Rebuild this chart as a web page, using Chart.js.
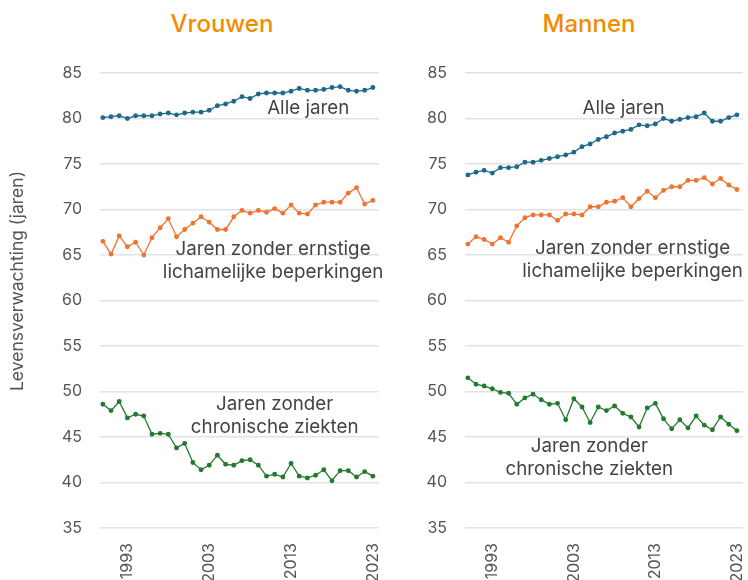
<!DOCTYPE html>
<html lang="nl">
<head>
<meta charset="utf-8">
<title>Levensverwachting</title>
<script src="https://cdn.jsdelivr.net/npm/chart.js@4/dist/chart.umd.min.js"></script>
<style>
  html, body { margin: 0; padding: 0; background: #fff; }
  body { width: 748px; height: 580px; position: relative; overflow: hidden; font-family: Inter, sans-serif; }
  .titel { position: absolute; top: 9px; width: 200px; text-align: center; font-size: 24px; font-weight: 500; color: #f08c00; }
  canvas { position: absolute; top: 0; }
</style>
</head>
<body>
<div class="titel" style="left:122px">Vrouwen</div>
<div class="titel" style="left:489px">Mannen</div>
<canvas id="grafiekVrouwen" width="385" height="580" style="left:0"></canvas>
<canvas id="grafiekMannen" width="328" height="580" style="left:420px"></canvas>
<script>
const jaren = [1990, 1991, 1992, 1993, 1994, 1995, 1996, 1997, 1998, 1999,
  2000, 2001, 2002, 2003, 2004, 2005, 2006, 2007, 2008, 2009,
  2010, 2011, 2012, 2013, 2014, 2015, 2016, 2017, 2018, 2019,
  2020, 2021, 2022, 2023];
const jaarTicks = [1993, 2003, 2013, 2023];
const yTicks = [35, 40, 45, 50, 55, 60, 65, 70, 75, 80, 85];

const vrouwenAlle = [80.1, 80.2, 80.3, 80.0, 80.3, 80.3, 80.3, 80.5, 80.6, 80.4,
  80.6, 80.7, 80.7, 80.9, 81.4, 81.6, 81.9, 82.4, 82.2, 82.7,
  82.8, 82.8, 82.8, 83.0, 83.3, 83.1, 83.1, 83.2, 83.4, 83.5,
  83.1, 83.0, 83.1, 83.4];
const vrouwenBeperking = [66.5, 65.1, 67.1, 65.9, 66.4, 65.0, 66.9, 68.0, 69.0, 67.0,
  67.8, 68.5, 69.2, 68.6, 67.8, 67.8, 69.2, 69.9, 69.6, 69.9,
  69.7, 70.1, 69.6, 70.5, 69.6, 69.5, 70.5, 70.8, 70.8, 70.8,
  71.8, 72.4, 70.6, 71.0];
const vrouwenChronisch = [48.6, 47.9, 48.9, 47.1, 47.5, 47.3, 45.3, 45.4, 45.3, 43.8,
  44.3, 42.2, 41.4, 41.9, 43.0, 42.0, 41.9, 42.4, 42.5, 41.9,
  40.7, 40.9, 40.6, 42.1, 40.7, 40.5, 40.8, 41.4, 40.2, 41.3,
  41.3, 40.6, 41.2, 40.7];

const mannenAlle = [73.8, 74.1, 74.3, 74.0, 74.6, 74.6, 74.7, 75.2, 75.2, 75.4,
  75.6, 75.8, 76.0, 76.3, 76.9, 77.2, 77.7, 78.0, 78.4, 78.6,
  78.8, 79.3, 79.2, 79.4, 80.0, 79.7, 79.9, 80.1, 80.2, 80.6,
  79.7, 79.7, 80.1, 80.4];
const mannenBeperking = [66.2, 67.0, 66.7, 66.2, 66.9, 66.4, 68.2, 69.1, 69.4, 69.4,
  69.4, 68.8, 69.5, 69.5, 69.4, 70.3, 70.3, 70.8, 70.9, 71.3,
  70.3, 71.2, 72.0, 71.3, 72.1, 72.5, 72.5, 73.2, 73.2, 73.5,
  72.8, 73.4, 72.7, 72.2];
const mannenChronisch = [51.5, 50.8, 50.6, 50.3, 49.9, 49.8, 48.6, 49.3, 49.7, 49.1,
  48.6, 48.7, 46.9, 49.2, 48.3, 46.6, 48.3, 47.9, 48.4, 47.6,
  47.2, 46.1, 48.2, 48.7, 47.0, 45.9, 46.9, 46.0, 47.3, 46.3,
  45.8, 47.2, 46.4, 45.7];

const reeksLabels = ["Alle jaren", "Jaren zonder ernstige lichamelijke beperkingen", "Jaren zonder chronische ziekten"];
const kleuren = ["#1d6a8c", "#ee7431", "#237a2e"];
const asTitel = "Levensverwachting (jaren)";

// tekst bij de lijnen, geplaatst in data-coordinaten
const tekstPlugin = {
  id: "tekstLabels",
  afterDatasetsDraw(chart, args, opts) {
    const ctx = chart.ctx;
    const x = chart.scales.x, y = chart.scales.y;
    ctx.save();
    ctx.fillStyle = "#444";
    ctx.font = "18.8px Inter, sans-serif";
    ctx.textAlign = "center";
    ctx.textBaseline = "middle";
    opts.items.forEach((it) => {
      const px = x.getPixelForValue(it.x);
      const py = y.getPixelForValue(it.y);
      it.lines.forEach((regel, k) => ctx.fillText(regel, px, py + k * 23.5));
    });
    if (opts.asTitel) {
      ctx.fillStyle = "#555";
      ctx.font = "17.5px Inter, sans-serif";
      ctx.translate(18, 281);
      ctx.rotate(-Math.PI / 2);
      ctx.fillText(opts.asTitel, 0, 0);
    }
    ctx.restore();
  },
};

function maakDatasets(reeksen) {
  return reeksen.map((waarden, i) => ({
    label: reeksLabels[i],
    data: waarden.map((v, j) => ({ x: jaren[j], y: v })),
    borderColor: kleuren[i],
    backgroundColor: kleuren[i],
    borderWidth: 1.3,
    pointRadius: 1.8,
    pointHoverRadius: 1.8,
    tension: 0,
  }));
}

function maakGrafiek(id, reeksen, yBreedte, padding, items, titel) {
  return new Chart(document.getElementById(id), {
    type: "line",
    data: { datasets: maakDatasets(reeksen) },
    options: {
      responsive: false,
      animation: false,
      devicePixelRatio: 1,
      layout: { padding: padding },
      plugins: {
        legend: { display: false },
        tooltip: { enabled: false },
        tekstLabels: { items: items, asTitel: titel },
      },
      scales: {
        x: {
          type: "linear",
          min: 1989.65,
          max: 2023.75,
          afterBuildTicks: (s) => { s.ticks = jaarTicks.map((v) => ({ value: v })); },
          afterFit: (s) => {
            s.height = 52;
            s.paddingLeft = 0;
            s.paddingRight = 0;
          },
          grid: { display: false },
          border: { display: false },
          ticks: {
            autoSkip: false,
            minRotation: 90,
            maxRotation: 90,
            padding: 7,
            color: "#555",
            font: { family: "Inter, sans-serif", size: 16 },
            callback: (v) => String(v),
          },
        },
        y: {
          min: 35,
          max: 85,
          afterBuildTicks: (s) => { s.ticks = yTicks.map((v) => ({ value: v })); },
          afterFit: (s) => { s.width = yBreedte; },
          grid: { color: "#e2e2e2", lineWidth: 1.5, drawTicks: false },
          border: { display: false },
          ticks: {
            padding: 18,
            color: "#555",
            font: { family: "Inter, sans-serif", size: 16 },
          },
        },
      },
    },
    plugins: [tekstPlugin],
  });
}

maakGrafiek("grafiekVrouwen", [vrouwenAlle, vrouwenBeperking, vrouwenChronisch], 60,
  { left: 40, top: 73, right: 6, bottom: 0 },
  [
    { x: 2015.1, y: 81.15, lines: ["Alle jaren"] },
    { x: 2010.8, y: 65.65, lines: ["Jaren zonder ernstige", "lichamelijke beperkingen"] },
    { x: 2011.0, y: 48.6, lines: ["Jaren zonder", "chronische ziekten"] },
  ], asTitel);

maakGrafiek("grafiekMannen", [mannenAlle, mannenBeperking, mannenChronisch], 44,
  { left: 1, top: 73, right: 5, bottom: 0 },
  [
    { x: 2009.1, y: 81.15, lines: ["Alle jaren"] },
    { x: 2010.2, y: 65.75, lines: ["Jaren zonder ernstige", "lichamelijke beperkingen"] },
    { x: 2004.9, y: 44.0, lines: ["Jaren zonder", "chronische ziekten"] },
  ], null);
</script>
</body>
</html>
